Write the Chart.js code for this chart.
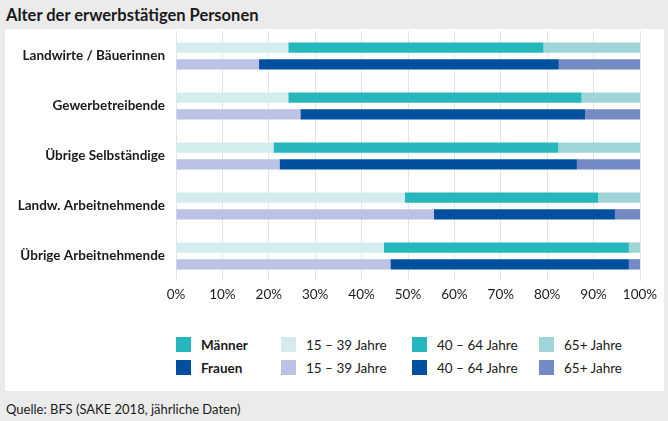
<!DOCTYPE html>
<html>
<head>
<meta charset="utf-8">
<script src="https://cdn.jsdelivr.net/npm/chart.js@4"></script>
<style>
  html,body{margin:0;padding:0;}
  body{width:668px;height:421px;background:#ebebeb;position:relative;overflow:hidden;
       font-family:Lato,sans-serif;color:#1a1a1a;}
  #title{position:absolute;left:6px;top:5px;font-size:16.5px;font-weight:bold;line-height:20px;}
  #panel{position:absolute;left:5px;top:29px;width:659px;height:362px;background:#fff;}
  #cwrap{position:absolute;left:0;top:0;width:659px;height:282px;}
  #source{position:absolute;left:6px;top:401px;font-size:13px;line-height:16px;}
  .sq{position:absolute;width:15px;height:15px;}
  .lt{position:absolute;font-size:13.5px;line-height:16px;white-space:nowrap;}
  .b{font-weight:bold;}
</style>
</head>
<body>
<div id="title">Alter der erwerbstätigen Personen</div>
<div id="panel">
  <div id="cwrap"><canvas id="c"></canvas></div>
  <div id="legend"></div>
</div>
<div id="source">Quelle: BFS (SAKE 2018, jährliche Daten)</div>
<script>
const categories = ['Landwirte / Bäuerinnen','Gewerbetreibende','Übrige Selbständige','Landw. Arbeitnehmende','Übrige Arbeitnehmende'];
const ageGroups = ['15 – 39 Jahre','40 – 64 Jahre','65+ Jahre'];
const maenner1539 = [24.2,24.2,21.0,49.3,44.8];
const maenner4064 = [55.0,63.2,61.4,41.7,52.8];
const maenner65 = [20.8,12.6,17.6,9.0,2.4];
const frauen1539 = [17.9,26.8,22.3,55.6,46.2];
const frauen4064 = [64.6,61.4,64.1,39.0,51.4];
const frauen65 = [17.5,11.8,13.6,5.4,2.4];
const tickValues = [0,10,20,30,40,50,60,70,80,90,100];

const mColors = ['#d4ecee','#26b7bc','#a0d5d7'];
const fColors = ['#bbc2e5','#00509f','#738ac4'];
const FONT = 'Lato, sans-serif';

const ds = (label, data, color, stack) => ({label, data, backgroundColor: color, stack,
  borderWidth: 0, categoryPercentage: 0.668, barPercentage: 0.623});

new Chart(document.getElementById('c'), {
  type: 'bar',
  data: {
    labels: categories,
    datasets: [
      ds('Männer ' + ageGroups[0], maenner1539, mColors[0], 'm'),
      ds('Männer ' + ageGroups[1], maenner4064, mColors[1], 'm'),
      ds('Männer ' + ageGroups[2], maenner65, mColors[2], 'm'),
      ds('Frauen ' + ageGroups[0], frauen1539, fColors[0], 'f'),
      ds('Frauen ' + ageGroups[1], frauen4064, fColors[1], 'f'),
      ds('Frauen ' + ageGroups[2], frauen65, fColors[2], 'f')
    ]
  },
  options: {
    indexAxis: 'y',
    responsive: true,
    maintainAspectRatio: false,
    animation: false,
    layout: {padding: {top: 2, right: 24, left: 0, bottom: 0}},
    plugins: {legend: {display: false}, tooltip: {enabled: false}},
    scales: {
      x: {
        stacked: true, min: 0, max: 100,
        afterBuildTicks: s => { s.ticks = tickValues.map(v => ({value: v})); },
        afterFit: s => { s.height = 30; s.paddingLeft = 0; s.paddingRight = 0; },
        grid: {color: '#e4e4e4', lineWidth: 1, drawTicks: false},
        border: {display: false},
        ticks: {padding: 6, color: '#1a1a1a', font: {family: FONT, size: 13.5}, callback: v => v + '%'}
      },
      y: {
        stacked: true,
        afterFit: s => { s.width = 171; s.paddingTop = 0; s.paddingBottom = 0; },
        grid: {display: false, drawTicks: false},
        border: {display: false},
        ticks: {padding: 11, color: '#1a1a1a', font: {family: FONT, size: 13.5, weight: 'bold'}}
      }
    }
  }
});

// legend (HTML), positions relative to panel
const legend = document.getElementById('legend');
const rows = [{name: 'Männer', colors: mColors, main: mColors[1], y: 308},
              {name: 'Frauen', colors: fColors, main: fColors[1], y: 331}];
const colX = [276, 407, 534];
rows.forEach(r => {
  legend.insertAdjacentHTML('beforeend',
    `<div class="sq" style="left:171px;top:${r.y}px;background:${r.main}"></div>` +
    `<div class="lt b" style="left:196px;top:${r.y}px">${r.name}</div>`);
  ageGroups.forEach((g, i) => {
    legend.insertAdjacentHTML('beforeend',
      `<div class="sq" style="left:${colX[i]}px;top:${r.y}px;background:${r.colors[i]}"></div>` +
      `<div class="lt" style="left:${colX[i] + 25}px;top:${r.y}px">${g}</div>`);
  });
});
</script>
</body>
</html>
